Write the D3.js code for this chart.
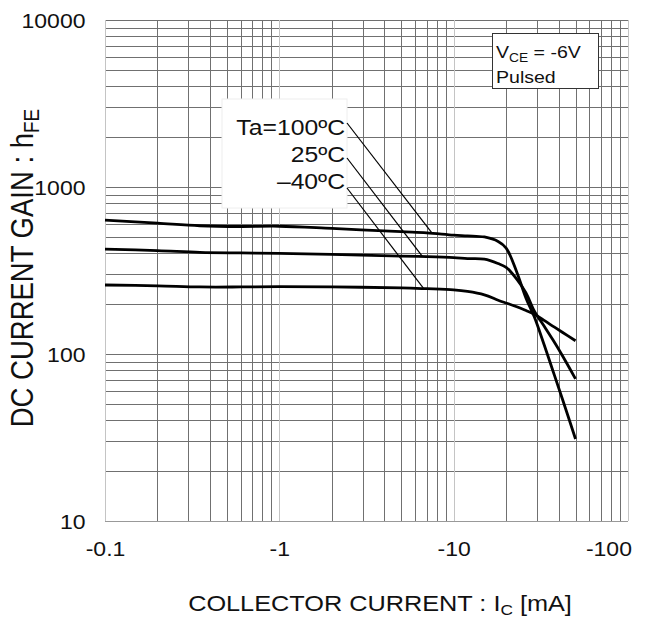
<!DOCTYPE html>
<html>
<head>
<meta charset="utf-8">
<script src="https://cdn.jsdelivr.net/npm/d3@7"></script>
<style>
  body { margin: 0; background: #fff; }
  svg { display: block; font-family: "Liberation Sans", Arial, sans-serif; }
</style>
</head>
<body>
<svg id="chart" width="651" height="621"></svg>
<script>
// collector current (mA, shown negative) and hFE per ambient temperature
var currents = [0.1, 0.2, 0.35, 0.6, 1, 2, 5, 7, 10, 12, 15, 18, 20, 23, 26, 29, 33, 37, 42, 50];
var hfe100 = [634, 607, 586, 580, 582, 565, 540, 532, 515, 510, 502, 472, 431, 310, 216, 167, 114, 80, 54, 31];
var hfe25 = [425, 416, 406, 403, 401, 395, 386, 383, 378, 373, 370, 348, 330, 281, 232, 181, 147, 122, 98, 71];
var hfeM40 = [259, 256, 252, 252, 253, 252, 249, 246, 242, 237, 226, 210, 202, 192, 182, 173, 159, 147, 135, 120];
var seriesNames = ["Ta=100ºC", "25ºC", "–40ºC"];
// where each leader line touches its curve [IC, hFE]
var leaderTargets = [[7.5, 532], [6.6, 385], [6.7, 248]];
var xTickLabels = [0.1, 1, 10, 100];
var yTickLabels = [10, 100, 1000, 10000];

var margin = { top: 20, right: 23, bottom: 100, left: 105 };
var W = 651, H = 621;
var width = W - margin.left - margin.right;
var height = H - margin.top - margin.bottom;
var SX = 1.15; // the original artwork is stretched horizontally

var svg = d3.select("#chart");
var g = svg.append("g").attr("transform", "translate(" + margin.left + "," + margin.top + ")");

var x = d3.scaleLog().domain([0.1, 100]).range([0, width]);
var y = d3.scaleLog().domain([10, 10000]).range([height, 0]);

function isDecade(v) {
    var l = Math.log10(v);
    return Math.abs(l - Math.round(l)) < 1e-6;
}

// grid
g.append("g").selectAll("line").data(y.ticks()).enter().append("line")
    .attr("x1", 0).attr("x2", width)
    .attr("y1", function (d) { return Math.round(y(d)) + 0.5; })
    .attr("y2", function (d) { return Math.round(y(d)) + 0.5; })
    .attr("stroke", function (d) { return d === 10 ? "#999" : "#707070"; })
    .attr("stroke-width", 1);
g.append("g").selectAll("line").data(x.ticks()).enter().append("line")
    .attr("y1", 0).attr("y2", height)
    .attr("x1", function (d) { return Math.round(x(d)) + 0.5; })
    .attr("x2", function (d) { return Math.round(x(d)) + 0.5; })
    .attr("stroke", function (d) { return isDecade(d) ? "#c4c4c4" : "#707070"; })
    .attr("stroke-width", 1);

// axes (labels only)
var xAxis = g.append("g").attr("transform", "translate(0," + height + ")")
    .call(d3.axisBottom(x).tickValues(xTickLabels).tickSize(0).tickPadding(0)
        .tickFormat(function (d) { return "-" + d; }));
xAxis.select(".domain").remove();
xAxis.selectAll("text")
    .attr("font-family", "Liberation Sans, Arial, sans-serif")
    .attr("font-size", 20).attr("fill", "#111")
    .attr("dy", null).attr("y", 35)
    .attr("transform", "scale(" + SX + ",1)");
xAxis.selectAll(".tick").filter(function (d) { return d === 100; }).select("text")
    .attr("text-anchor", "end").attr("x", 3);

var yAxis = g.append("g")
    .call(d3.axisLeft(y).tickValues(yTickLabels).tickSize(0).tickPadding(0)
        .tickFormat(d3.format("d")));
yAxis.select(".domain").remove();
yAxis.selectAll("text")
    .attr("font-family", "Liberation Sans, Arial, sans-serif")
    .attr("font-size", 20).attr("fill", "#111")
    .attr("x", -17).attr("dy", "0.36em")
    .attr("transform", "scale(" + SX + ",1)");

// curves
var line = d3.line()
    .x(function (d) { return x(d[0]); })
    .y(function (d) { return y(d[1]); })
    .curve(d3.curveCatmullRom.alpha(0.5));
[hfe100, hfe25, hfeM40].forEach(function (vals) {
    g.append("path")
        .datum(currents.map(function (c, i) { return [c, vals[i]]; }))
        .attr("fill", "none").attr("stroke", "#000")
        .attr("stroke-width", 2.8).attr("stroke-linejoin", "round")
        .attr("d", line);
});

function stretchedText(parent, tx, ty, size, anchor) {
    return parent.append("text")
        .attr("transform", "translate(" + tx + "," + ty + ") scale(" + SX + ",1)")
        .attr("font-size", size).attr("text-anchor", anchor).attr("fill", "#111");
}

// temperature labels with leader lines
var labelX = 345 - margin.left;
var labelY = [135, 162, 189].map(function (v) { return v - margin.top; });
var leaderStart = [103, 138, 168];
g.append("rect").attr("x", 222 - margin.left).attr("y", 99 - margin.top)
    .attr("width", 125).attr("height", 109)
    .attr("fill", "#fff").attr("stroke", "#eee");
seriesNames.forEach(function (name, i) {
    stretchedText(g, labelX, labelY[i], 21.5, "end").text(name);
    g.append("line")
        .attr("x1", labelX + 2).attr("y1", leaderStart[i])
        .attr("x2", x(leaderTargets[i][0])).attr("y2", y(leaderTargets[i][1]))
        .attr("stroke", "#000").attr("stroke-width", 1.2);
});

// condition box
g.append("rect").attr("x", 492.5 - margin.left).attr("y", 33.5 - margin.top)
    .attr("width", 106).attr("height", 55)
    .attr("fill", "#fff").attr("stroke", "#333").attr("stroke-width", 1);
var vce = stretchedText(g, 496 - margin.left, 57.5 - margin.top, 17, "start");
vce.append("tspan").text("V");
vce.append("tspan").attr("font-size", 12).attr("dy", 4).text("CE");
vce.append("tspan").attr("dy", -4).text(" = -6V");
stretchedText(g, 496 - margin.left, 82.5 - margin.top, 17, "start").text("Pulsed");

// axis titles
var xt = stretchedText(svg, 380, 611, 22, "middle");
xt.append("tspan").text("COLLECTOR CURRENT : I");
xt.append("tspan").attr("font-size", 15).attr("dy", 4).text("C");
xt.append("tspan").attr("dy", -4).text(" [mA]");

var yt = svg.append("text")
    .attr("transform", "translate(33,268) scale(" + SX + ",1) rotate(-90)")
    .attr("font-size", 27.5).attr("text-anchor", "middle").attr("fill", "#111");
yt.append("tspan").text("DC CURRENT GAIN : h");
yt.append("tspan").attr("font-size", 19).attr("dy", 5).text("FE");
</script>
</body>
</html>
